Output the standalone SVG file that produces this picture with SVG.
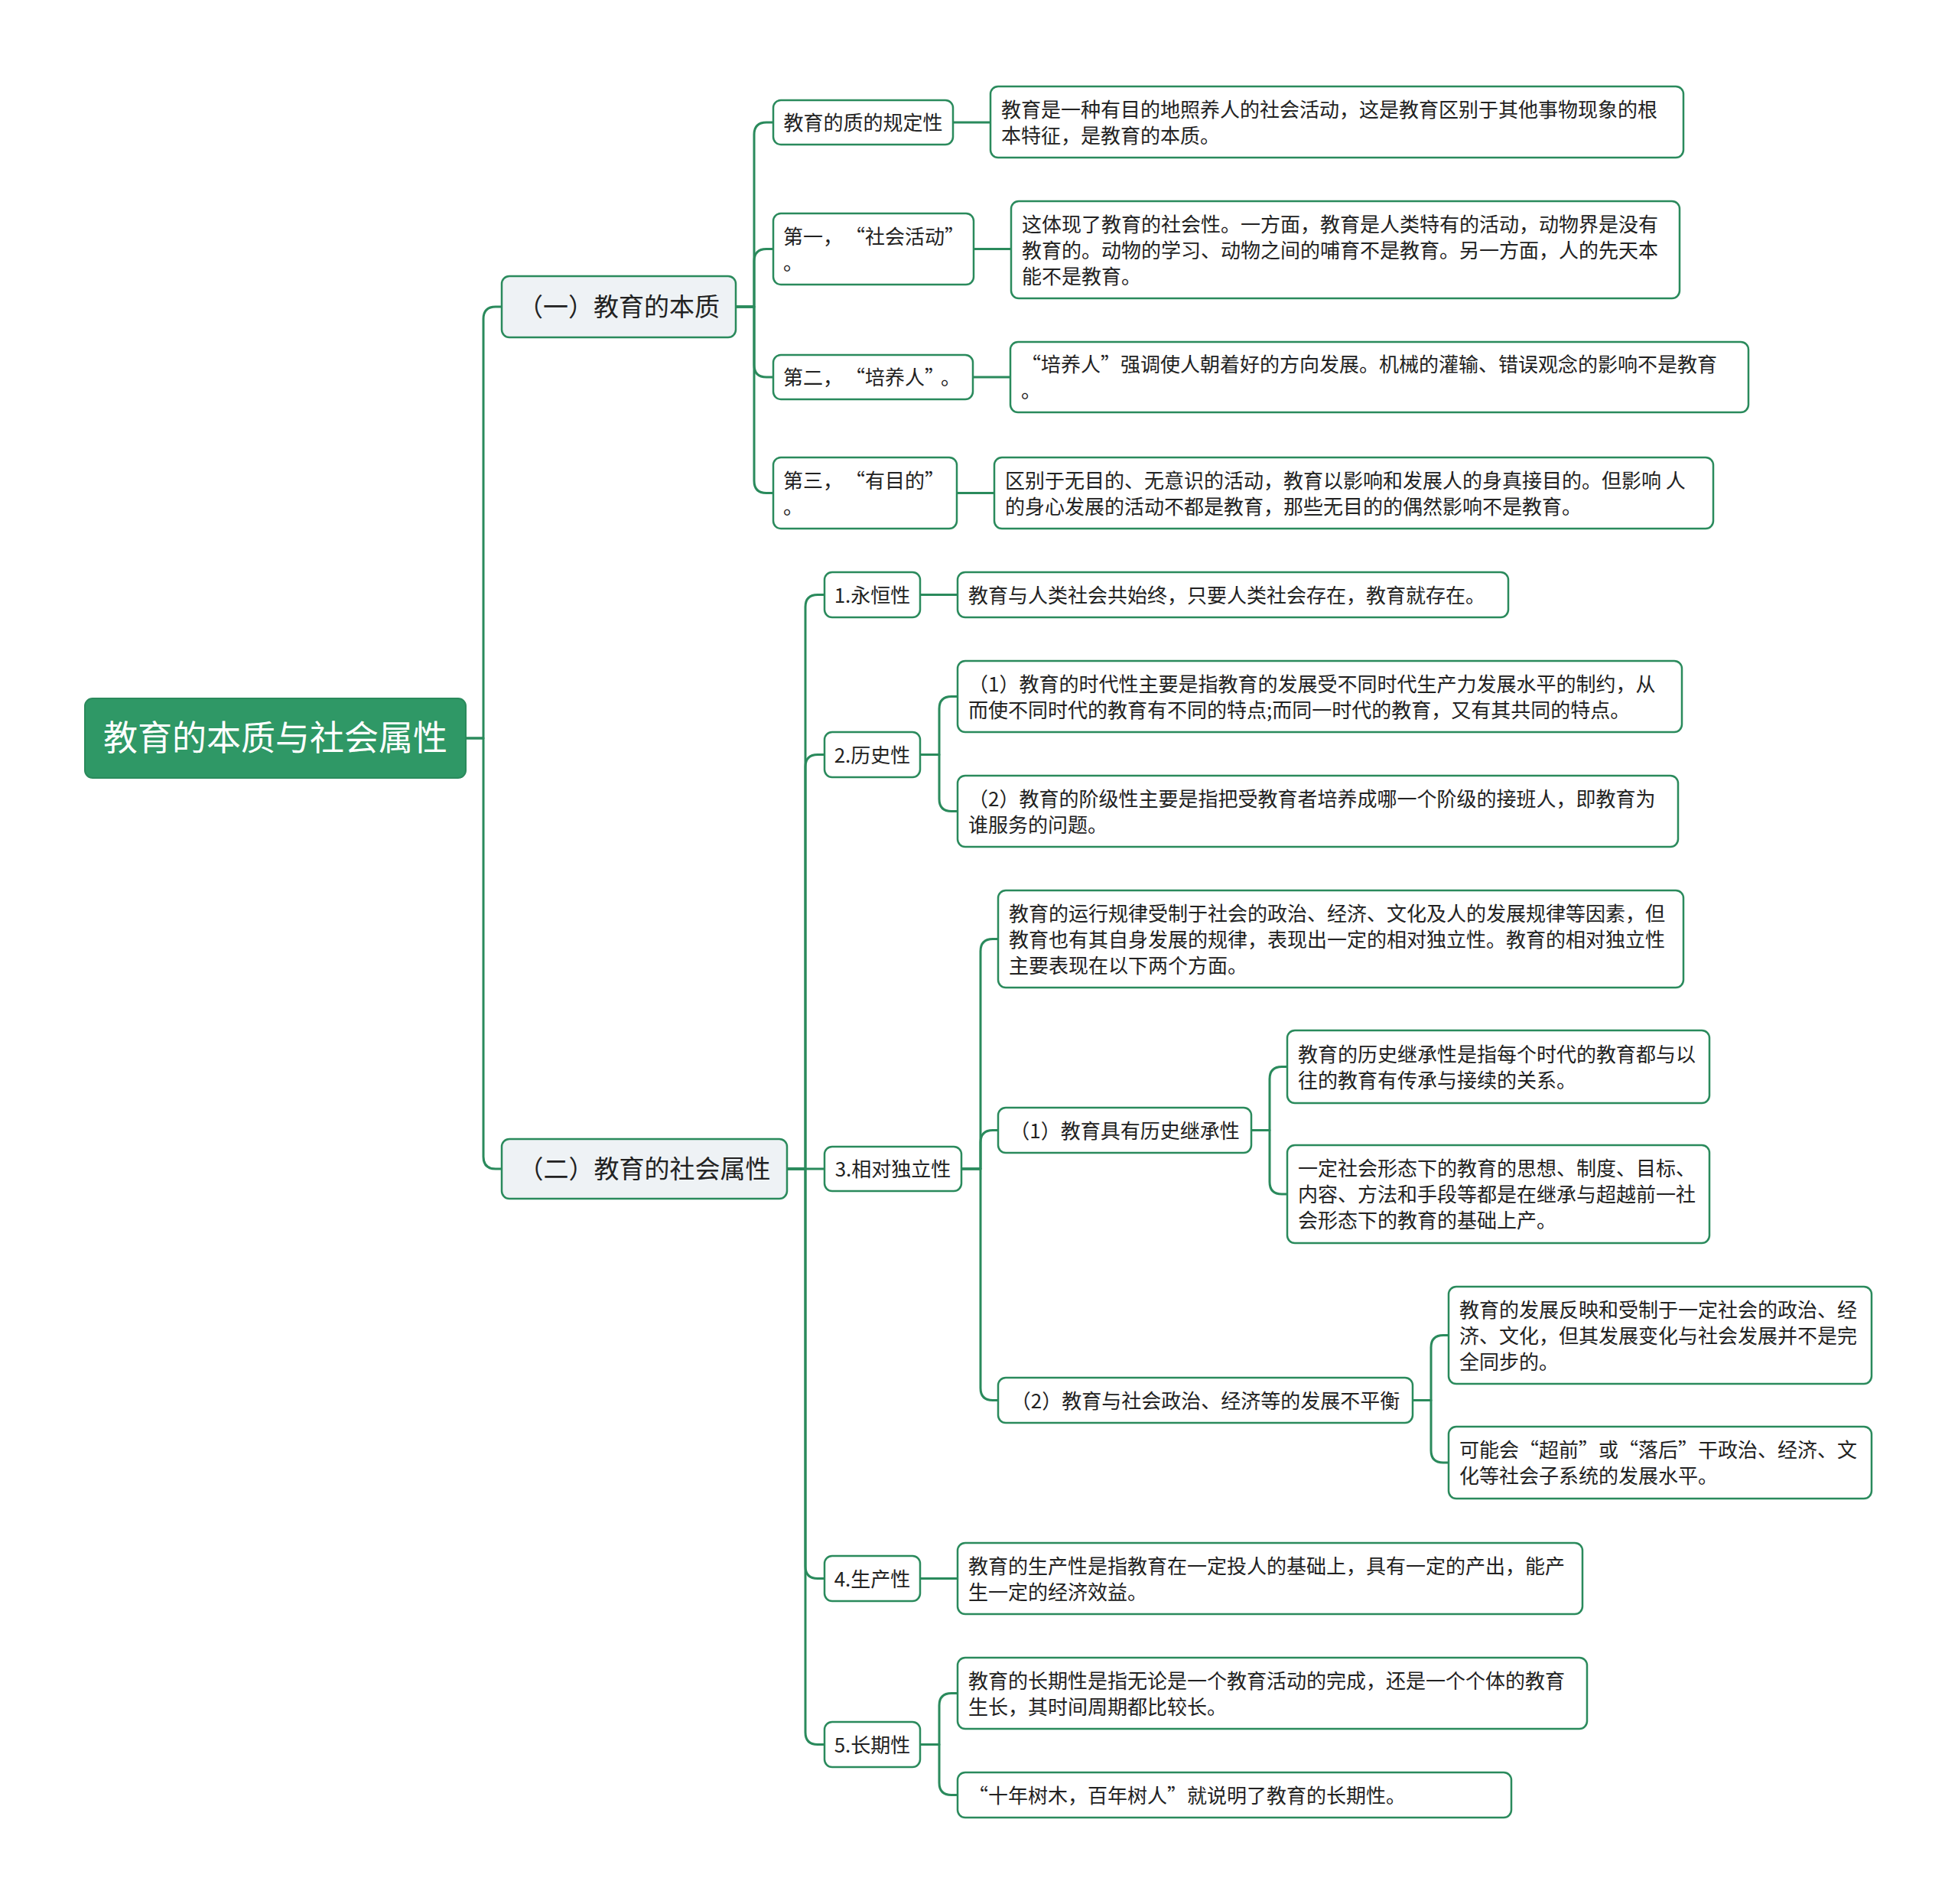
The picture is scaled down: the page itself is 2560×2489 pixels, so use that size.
<svg xmlns="http://www.w3.org/2000/svg" width="2560" height="2489" viewBox="0 0 2560 2489">
<style>
.bg{fill:#ffffff}
.box{fill:#ffffff;stroke:#2a8a5c;stroke-width:2.5}
.l1{fill:#eef2f5;stroke:#2a8a5c;stroke-width:2.5}
.root{fill:#2f9866;stroke:#2a8a5c;stroke-width:2}
.t{font-family:"Noto Sans CJK SC","Microsoft YaHei",sans-serif;font-size:26px;fill:#222222}
.tm{text-anchor:middle}
.t1{font-family:"Noto Sans CJK SC","Microsoft YaHei",sans-serif;font-size:33px;fill:#222222;text-anchor:middle}
.tr{font-family:"Noto Sans CJK SC","Microsoft YaHei",sans-serif;font-size:45px;fill:#ffffff;text-anchor:middle}
.c{fill:none;stroke:#2a8a5c;stroke-width:3;stroke-linejoin:round}
</style>
<rect class="bg" x="0" y="0" width="2560" height="2489"/>
<g id="connectors">
<path class="c" d="M609,965 H632 V417 Q632,401 648,401 H656"/>
<path class="c" d="M609,965 H632 V1512 Q632,1528 648,1528 H656"/>
<path class="c" d="M962,401 H986 V176 Q986,160 1002,160 H1011"/>
<path class="c" d="M962,401 H986 V341.5 Q986,325.5 1002,325.5 H1011"/>
<path class="c" d="M962,401 H986 V477 Q986,493 1002,493 H1011"/>
<path class="c" d="M962,401 H986 V628.5 Q986,644.5 1002,644.5 H1011"/>
<path class="c" d="M1246,160 H1295"/>
<path class="c" d="M1273,325.5 H1322"/>
<path class="c" d="M1272,493 H1321"/>
<path class="c" d="M1251,644.5 H1300"/>
<path class="c" d="M1029,1528 H1053 V793.5 Q1053,777.5 1069,777.5 H1078"/>
<path class="c" d="M1029,1528 H1053 V1002.5 Q1053,986.5 1069,986.5 H1078"/>
<path class="c" d="M1029,1528 H1078"/>
<path class="c" d="M1029,1528 H1053 V2047.5 Q1053,2063.5 1069,2063.5 H1078"/>
<path class="c" d="M1029,1528 H1053 V2264.5 Q1053,2280.5 1069,2280.5 H1078"/>
<path class="c" d="M1203,777.5 H1252"/>
<path class="c" d="M1203,986.5 H1228 V926.5 Q1228,910.5 1244,910.5 H1252"/>
<path class="c" d="M1203,986.5 H1228 V1044.5 Q1228,1060.5 1244,1060.5 H1252"/>
<path class="c" d="M1257,1528 H1282 V1243.5 Q1282,1227.5 1298,1227.5 H1305"/>
<path class="c" d="M1257,1528 H1282 V1493.5 Q1282,1477.5 1298,1477.5 H1305"/>
<path class="c" d="M1257,1528 H1282 V1814.5 Q1282,1830.5 1298,1830.5 H1305"/>
<path class="c" d="M1636,1477.5 H1660 V1410.5 Q1660,1394.5 1676,1394.5 H1683"/>
<path class="c" d="M1636,1477.5 H1660 V1545 Q1660,1561 1676,1561 H1683"/>
<path class="c" d="M1847,1830.5 H1871 V1761.5 Q1871,1745.5 1887,1745.5 H1894"/>
<path class="c" d="M1847,1830.5 H1871 V1896 Q1871,1912 1887,1912 H1894"/>
<path class="c" d="M1203,2063.5 H1252"/>
<path class="c" d="M1203,2280.5 H1228 V2229.5 Q1228,2213.5 1244,2213.5 H1252"/>
<path class="c" d="M1203,2280.5 H1228 V2330.5 Q1228,2346.5 1244,2346.5 H1252"/>
</g>
<g id="root">
<rect class="root" x="111" y="913" width="498" height="104" rx="10"/>
<text class="tr" x="360" y="981">教育的本质与社会属性</text>
</g>
<g id="n1">
<rect class="l1" x="656" y="361" width="306" height="80" rx="10"/>
<text class="t1" x="809" y="413">（一）教育的本质</text>
</g>
<g id="n2">
<rect class="l1" x="656" y="1489" width="373" height="78" rx="10"/>
<text class="t1" x="842.5" y="1540">（二）教育的社会属性</text>
</g>
<g id="q1">
<rect class="box" x="1011" y="131" width="235" height="58" rx="10"/>
<text class="t tm" x="1128.5" y="170">教育的质的规定性</text>
</g>
<g id="q1a">
<rect class="box" x="1295" y="113" width="906" height="93" rx="10"/>
<text class="t" x="1309" y="152.5">教育是一种有目的地照养人的社会活动，这是教育区别于其他事物现象的根</text>
<text class="t" x="1309" y="186.5">本特征，是教育的本质。</text>
</g>
<g id="q2">
<rect class="box" x="1011" y="279" width="262" height="93" rx="10"/>
<text class="t" x="1024" y="318.5">第一，<tspan dx="16">“社会活动”</tspan></text>
<text class="t" x="1024" y="352.5">。</text>
</g>
<g id="q2a">
<rect class="box" x="1322" y="263" width="874" height="127" rx="10"/>
<text class="t" x="1336" y="302.5">这体现了教育的社会性。一方面，教育是人类特有的活动，动物界是没有</text>
<text class="t" x="1336" y="336.5">教育的。动物的学习、动物之间的哺育不是教育。另一方面，人的先天本</text>
<text class="t" x="1336" y="370.5">能不是教育。</text>
</g>
<g id="q3">
<rect class="box" x="1011" y="464" width="261" height="58" rx="10"/>
<text class="t" x="1024" y="503">第二，<tspan dx="16">“培养人”</tspan><tspan dx="8">。</tspan></text>
</g>
<g id="q3a">
<rect class="box" x="1321" y="447" width="965" height="92" rx="10"/>
<text class="t" x="1335" y="486">“培养人”强调使人朝着好的方向发展。机械的灌输、错误观念的影响不是教育</text>
<text class="t" x="1335" y="520">。</text>
</g>
<g id="q4">
<rect class="box" x="1011" y="598" width="240" height="93" rx="10"/>
<text class="t" x="1024" y="637.5">第三，<tspan dx="16">“有目的”</tspan></text>
<text class="t" x="1024" y="671.5">。</text>
</g>
<g id="q4a">
<rect class="box" x="1300" y="598" width="940" height="93" rx="10"/>
<text class="t" x="1314" y="637.5">区别于无目的、无意识的活动，教育以影响和发展人的身真接目的。但影响 人</text>
<text class="t" x="1314" y="671.5">的身心发展的活动不都是教育，那些无目的的偶然影响不是教育。</text>
</g>
<g id="p1">
<rect class="box" x="1078" y="748" width="125" height="59" rx="10"/>
<text class="t tm" x="1140.5" y="787.5">1.永恒性</text>
</g>
<g id="p1a">
<rect class="box" x="1252" y="748" width="720" height="59" rx="10"/>
<text class="t" x="1266" y="787.5">教育与人类社会共始终，只要人类社会存在，教育就存在。</text>
</g>
<g id="p2">
<rect class="box" x="1078" y="957" width="125" height="59" rx="10"/>
<text class="t tm" x="1140.5" y="996.5">2.历史性</text>
</g>
<g id="p2a">
<rect class="box" x="1252" y="864" width="947" height="93" rx="10"/>
<text class="t" x="1266" y="903.5">（1）教育的时代性主要是指教育的发展受不同时代生产力发展水平的制约，从</text>
<text class="t" x="1266" y="937.5">而使不同时代的教育有不同的特点;而同一时代的教育，又有其共同的特点。</text>
</g>
<g id="p2b">
<rect class="box" x="1252" y="1014" width="942" height="93" rx="10"/>
<text class="t" x="1266" y="1053.5">（2）教育的阶级性主要是指把受教育者培养成哪一个阶级的接班人，即教育为</text>
<text class="t" x="1266" y="1087.5">谁服务的问题。</text>
</g>
<g id="p3">
<rect class="box" x="1078" y="1499" width="179" height="58" rx="10"/>
<text class="t tm" x="1167.5" y="1538">3.相对独立性</text>
</g>
<g id="p3a">
<rect class="box" x="1305" y="1164" width="896" height="127" rx="10"/>
<text class="t" x="1319" y="1203.5">教育的运行规律受制于社会的政治、经济、文化及人的发展规律等因素，但</text>
<text class="t" x="1319" y="1237.5">教育也有其自身发展的规律，表现出一定的相对独立性。教育的相对独立性</text>
<text class="t" x="1319" y="1271.5">主要表现在以下两个方面。</text>
</g>
<g id="p3b">
<rect class="box" x="1305" y="1448" width="331" height="59" rx="10"/>
<text class="t tm" x="1470.5" y="1487.5">（1）教育具有历史继承性</text>
</g>
<g id="p3b1">
<rect class="box" x="1683" y="1347" width="552" height="95" rx="10"/>
<text class="t" x="1697" y="1387.5">教育的历史继承性是指每个时代的教育都与以</text>
<text class="t" x="1697" y="1421.5">往的教育有传承与接续的关系。</text>
</g>
<g id="p3b2">
<rect class="box" x="1683" y="1497" width="552" height="128" rx="10"/>
<text class="t" x="1697" y="1537">一定社会形态下的教育的思想、制度、目标、</text>
<text class="t" x="1697" y="1571">内容、方法和手段等都是在继承与超越前一社</text>
<text class="t" x="1697" y="1605">会形态下的教育的基础上产。</text>
</g>
<g id="p3c">
<rect class="box" x="1305" y="1801" width="542" height="59" rx="10"/>
<text class="t tm" x="1576" y="1840.5">（2）教育与社会政治、经济等的发展不平衡</text>
</g>
<g id="p3c1">
<rect class="box" x="1894" y="1682" width="553" height="127" rx="10"/>
<text class="t" x="1908" y="1721.5">教育的发展反映和受制于一定社会的政治、经</text>
<text class="t" x="1908" y="1755.5">济、文化，但其发展变化与社会发展并不是完</text>
<text class="t" x="1908" y="1789.5">全同步的。</text>
</g>
<g id="p3c2">
<rect class="box" x="1894" y="1865" width="553" height="94" rx="10"/>
<text class="t" x="1908" y="1905">可能会“超前”或“落后”干政治、经济、文</text>
<text class="t" x="1908" y="1939">化等社会子系统的发展水平。</text>
</g>
<g id="p4">
<rect class="box" x="1078" y="2034" width="125" height="59" rx="10"/>
<text class="t tm" x="1140.5" y="2073.5">4.生产性</text>
</g>
<g id="p4a">
<rect class="box" x="1252" y="2017" width="817" height="93" rx="10"/>
<text class="t" x="1266" y="2056.5">教育的生产性是指教育在一定投人的基础上，具有一定的产出，能产</text>
<text class="t" x="1266" y="2090.5">生一定的经济效益。</text>
</g>
<g id="p5">
<rect class="box" x="1078" y="2251" width="125" height="59" rx="10"/>
<text class="t tm" x="1140.5" y="2290.5">5.长期性</text>
</g>
<g id="p5a">
<rect class="box" x="1252" y="2167" width="823" height="93" rx="10"/>
<text class="t" x="1266" y="2206.5">教育的长期性是指无论是一个教育活动的完成，还是一个个体的教育</text>
<text class="t" x="1266" y="2240.5">生长，其时间周期都比较长。</text>
</g>
<g id="p5b">
<rect class="box" x="1252" y="2317" width="724" height="59" rx="10"/>
<text class="t" x="1266" y="2356.5">“十年树木，百年树人”就说明了教育的长期性。</text>
</g>
</svg>
